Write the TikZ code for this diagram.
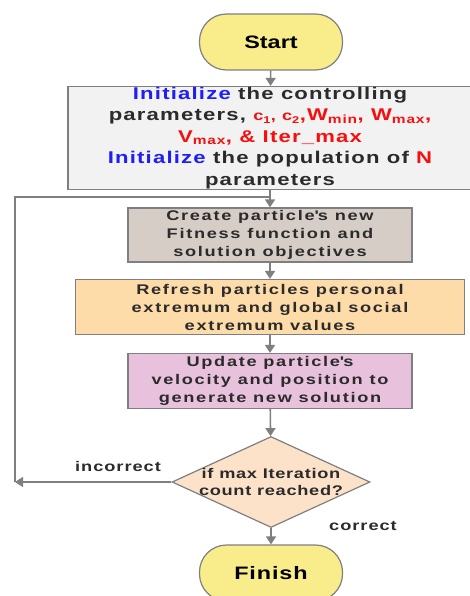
\documentclass[tikz,border=0pt]{standalone}
\usepackage{fontspec}
\setmainfont{Liberation Sans}
\usetikzlibrary{shapes.geometric,arrows.meta}
\definecolor{termfill}{HTML}{F9EC8A}
\definecolor{initfill}{HTML}{F2F2F2}
\definecolor{boxa}{HTML}{D6CDC7}
\definecolor{boxb}{HTML}{FDDCA9}
\definecolor{boxc}{HTML}{E8C1DD}
\definecolor{decfill}{HTML}{FCE2C9}
\definecolor{edge}{HTML}{7F7F7F}
\definecolor{txt}{HTML}{2B2B2B}
\definecolor{myblue}{HTML}{1E1EF5}
\definecolor{myred}{HTML}{F51010}
\begin{document}
\begin{tikzpicture}[x=1pt,y=-1pt,
  every node/.style={font=\bfseries, text=txt},
  term/.style={draw=edge, line width=1.2pt, fill=termfill, rounded corners=27pt,
    minimum width=143pt, minimum height=56pt, inner sep=0pt, text=black},
  procbox/.style={draw=edge, line width=1.2pt, inner sep=0pt, align=center,
    font=\bfseries\fontsize{14}{18}\selectfont\addfontfeature{FakeStretch=1.3,LetterSpace=12}},
  decbox/.style={diamond, draw=edge, line width=1.2pt, fill=decfill, inner sep=-14pt,
    minimum width=198pt, minimum height=91pt, aspect=2.2, align=center,
    font=\bfseries\fontsize{14}{17}\selectfont\addfontfeature{FakeStretch=1.3,LetterSpace=5}},
  lbl/.style={font=\bfseries\fontsize{14}{15}\selectfont\addfontfeature{FakeStretch=1.3,LetterSpace=7}},
  arr/.style={draw=edge, line width=1.6pt, -{Triangle[length=8pt,width=10pt]}},
  ln/.style={draw=edge, line width=1.6pt}
]
\useasboundingbox (0,0) rectangle (470,596);
\node[term, font=\bfseries\fontsize{18}{20}\selectfont\addfontfeature{FakeStretch=1.3}] (start) at (271,42) {Start};
\node[procbox, fill=initfill, minimum width=404pt, minimum height=103pt,
  font=\bfseries\fontsize{17}{21.5}\selectfont\addfontfeature{FakeStretch=1.3,LetterSpace=7}] (init) at (270,138)
  {\textcolor{myblue}{Initialize} the controlling\\
   parameters, \textcolor{myred}{{\fontsize{14}{15}\selectfont c\textsubscript{1}, c\textsubscript{2}},W\textsubscript{min}, W\textsubscript{max},}\\
   \textcolor{myred}{V\textsubscript{max}, \& Iter\_max}\\
   \textcolor{myblue}{Initialize} the population of \textcolor{myred}{N}\\
   parameters};
\node[procbox, fill=boxa, minimum width=284pt, minimum height=54pt] (b1) at (270,235)
  {Create particle\textquotesingle s new\\Fitness function and\\solution objectives};
\node[procbox, fill=boxb, minimum width=389pt, minimum height=55pt] (b2) at (270,307)
  {Refresh particles personal\\extremum and global social\\extremum values};
\node[procbox, fill=boxc, minimum width=284pt, minimum height=55pt] (b3) at (270,381)
  {Update particle\textquotesingle s\\velocity and position to\\generate new solution};
\node[decbox] (dec) at (271,482) {if max Iteration\\count reached?};
\node[term, font=\bfseries\fontsize{18}{20}\selectfont\addfontfeature{FakeStretch=1.3,LetterSpace=5}] (finish) at (271,573) {Finish};
\coordinate (lc) at (15,482);
\coordinate (lt) at (15,197);
\coordinate (lj) at (270,197);
\node[lbl] (inc) at (118,466) {incorrect};
\node[lbl] (cor) at (363,526) {correct};
\draw[arr] (start) -- (init);
\draw[arr] (init) -- (b1);
\draw[arr] (b1) -- (b2);
\draw[arr] (b2) -- (b3);
\draw[arr] (b3) -- (dec);
\draw[arr] (dec) -- (finish);
\draw[arr] (dec.west) -- (lc);
\draw[ln] (lc) -- (lt) -- (lj);
\end{tikzpicture}
\end{document}
